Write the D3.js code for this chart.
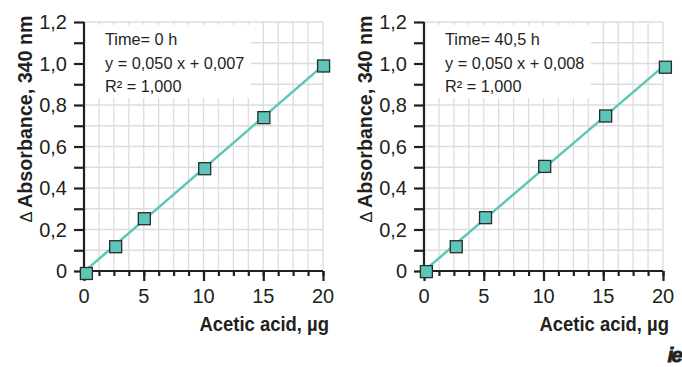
<!DOCTYPE html>
<html>
<head>
<meta charset="utf-8">
<script src="https://cdn.jsdelivr.net/npm/d3@7"></script>
<style>
  body { margin: 0; background: #fff; }
  svg text { font-family: "Liberation Sans", Arial, sans-serif; fill: #231f20; }
</style>
</head>
<body>
<script>
// Data
const xTicks = [0, 5, 10, 15, 20];
const yTicks = [0, 0.2, 0.4, 0.6, 0.8, 1.0, 1.2];
const yTickLabels = ['0', '0,2', '0,4', '0,6', '0,8', '1,0', '1,2'];

const amountsLeft = [0.2, 2.65, 5.05, 10.1, 15.05, 20.05];
const absLeft = [-0.012, 0.117, 0.252, 0.493, 0.739, 0.988];
const fitLeft = [[0, -0.004], [20, 0.99]];
const infoLeft = ['Time= 0 h', 'y = 0,050 x + 0,007', 'R² = 1,000'];

const amountsRight = [0.2, 2.7, 5.15, 10.1, 15.2, 20.2];
const absRight = [-0.003, 0.117, 0.257, 0.504, 0.747, 0.982];
const fitRight = [[0, 0.0], [20, 0.985]];
const infoRight = ['Time= 40,5 h', 'y = 0,050 x + 0,008', 'R² = 1,000'];

const xAxisLabel = 'Acetic acid, µg';
const yAxisLabel = 'Absorbance, 340 nm';

const width = 682;
const height = 367;
const inkColor = '#231f20';
const tealColor = '#5cc6ba';

const svg = d3.select('body').append('svg')
  .attr('width', width)
  .attr('height', height);

function drawPanel(offsetX, amounts, absorb, fit, info) {
  const g = svg.append('g').attr('transform', `translate(${offsetX},0)`);

  const x = d3.scaleLinear().domain([0, 20]).range([84, 323]);
  const y = d3.scaleLinear().domain([0, 1.2]).range([271, 22]);

  // grid
  const gridX = d3.range(0, 20.01, 1.25);
  const gridY = d3.range(0, 1.201, 0.1);
  g.append('g').selectAll('line').data(gridX.slice(1)).join('line')
    .attr('x1', d => x(d)).attr('x2', d => x(d))
    .attr('y1', y(0)).attr('y2', y(1.2))
    .attr('stroke', '#dcdcdc').attr('stroke-width', 1.3);
  g.append('g').selectAll('line').data(gridY.slice(1)).join('line')
    .attr('x1', x(0)).attr('x2', x(20))
    .attr('y1', d => y(d)).attr('y2', d => y(d))
    .attr('stroke', '#dcdcdc').attr('stroke-width', 1.3);

  // white box behind the equation text
  g.append('rect')
    .attr('x', x(0) + 1).attr('y', y(1.2) + 3)
    .attr('width', 166).attr('height', 73)
    .attr('fill', '#fff');

  // y axis
  const yAxis = d3.axisLeft(y)
    .tickValues(gridY)
    .tickSize(10)
    .tickFormat('');
  const yAxisG = g.append('g').attr('transform', `translate(${x(0)},0)`).call(yAxis);
  yAxisG.selectAll('path, line').attr('stroke', inkColor).attr('stroke-width', 2.2);
  yAxisG.select('.domain').attr('d', `M0,${y(1.2)}V${y(0)}`);

  g.append('g').selectAll('text').data(yTicks).join('text')
    .attr('x', 67)
    .attr('y', d => y(d) + 7)
    .attr('text-anchor', 'end')
    .attr('font-size', '20px')
    .text((d, i) => yTickLabels[i]);

  // x axis
  const xAxisMinor = d3.axisBottom(x).tickValues(gridX).tickSize(5).tickFormat('');
  const xAxisG = g.append('g').attr('transform', `translate(0,${y(0)})`).call(xAxisMinor);
  xAxisG.selectAll('path, line').attr('stroke', inkColor).attr('stroke-width', 2.2);
  xAxisG.select('.domain').attr('d', `M${x(0)},0H${x(20)}`);
  const xAxisMajor = d3.axisBottom(x).tickValues(xTicks).tickSize(10).tickFormat('');
  const xMajorG = g.append('g').attr('transform', `translate(0,${y(0)})`).call(xAxisMajor);
  xMajorG.selectAll('line').attr('stroke', inkColor).attr('stroke-width', 2.2);
  xMajorG.select('.domain').remove();

  g.append('g').selectAll('text').data(xTicks).join('text')
    .attr('x', d => x(d))
    .attr('y', 303)
    .attr('text-anchor', 'middle')
    .attr('font-size', '20px')
    .text(d => d);

  // axis titles (condensed look)
  g.append('text')
    .attr('transform', 'translate(329,331) scale(0.9,1)')
    .attr('text-anchor', 'end')
    .attr('font-size', '20.5px')
    .style('font-weight', 'bold')
    .text(xAxisLabel);

  const yTitle = g.append('text')
    .attr('transform', 'translate(32,119) rotate(-90) scale(0.96,1)')
    .attr('text-anchor', 'middle')
    .attr('font-size', '20.5px');
  yTitle.append('tspan').style('font-weight', 'normal').attr('font-size', '17px').text('Δ ');
  yTitle.append('tspan').style('font-weight', 'bold').text(yAxisLabel);

  // equation text
  g.append('g').selectAll('text').data(info).join('text')
    .attr('x', 105)
    .attr('y', (d, i) => 45 + i * 23.5)
    .attr('font-size', '16.3px')
    .text(d => d);

  // fit line
  g.append('line')
    .attr('x1', x(fit[0][0])).attr('y1', y(fit[0][1]))
    .attr('x2', x(fit[1][0])).attr('y2', y(fit[1][1]))
    .attr('stroke', tealColor).attr('stroke-width', 2.5);

  // markers
  const pts = amounts.map((a, i) => ({a: a, v: absorb[i]}));
  g.append('g').selectAll('rect').data(pts).join('rect')
    .attr('x', d => x(d.a) - 6)
    .attr('y', d => y(d.v) - 6)
    .attr('width', 12).attr('height', 12)
    .attr('fill', tealColor)
    .attr('stroke', '#2b2b2b')
    .attr('stroke-width', 1.3);
}

drawPanel(0, amountsLeft, absLeft, fitLeft, infoLeft);
drawPanel(340, amountsRight, absRight, fitRight, infoRight);

// publisher mark
svg.append('text')
  .attr('x', 681).attr('y', 362)
  .attr('text-anchor', 'end')
  .attr('font-size', '21px')
  .style('font-weight', 'bold')
  .style('font-style', 'italic')
  .attr('letter-spacing', '-2px')
  .attr('stroke', '#231f20')
  .attr('stroke-width', 0.8)
  .text('ie');
</script>
</body>
</html>
